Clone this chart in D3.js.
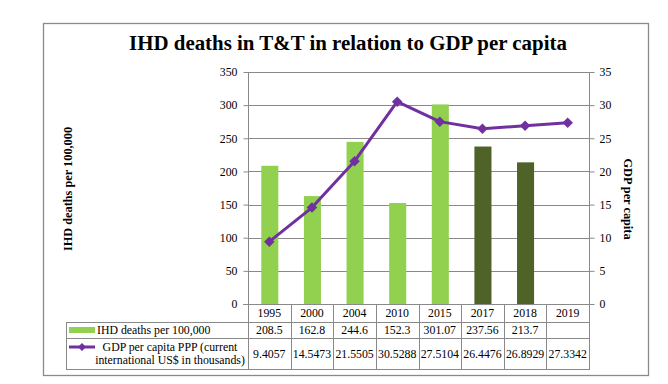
<!DOCTYPE html>
<html>
<head>
<meta charset="utf-8">
<script src="https://cdn.jsdelivr.net/npm/d3@7"></script>
<style>
  body { margin: 0; background: white; }
  svg text { font-family: "Liberation Serif", "Times New Roman", serif; fill: #000; }
</style>
</head>
<body>
<svg class="main" width="668" height="384"></svg>
<script>
const years = ['1995', '2000', '2004', '2010', '2015', '2017', '2018', '2019'];
const deaths = [208.5, 162.8, 244.6, 152.3, 301.07, 237.56, 213.7, null];
const deathLabels = ['208.5', '162.8', '244.6', '152.3', '301.07', '237.56', '213.7', ''];
const gdp = [9.4057, 14.5473, 21.5505, 30.5288, 27.5104, 26.4476, 26.8929, 27.3342];
const gdpLabels = ['9.4057', '14.5473', '21.5505', '30.5288', '27.5104', '26.4476', '26.8929', '27.3342'];
const leftTicks = [0, 50, 100, 150, 200, 250, 300, 350];
const rightTicks = [0, 5, 10, 15, 20, 25, 30, 35];

const colors = {
    light: '#92D050',
    dark: '#4F6228',
    line: '#7030A0',
    grid: '#898989',
    frame: '#8a8a8a'
};

const svg = d3.select('svg.main'),
    fontSize = 11.8,
    plot = { left: 248, right: 589, top: 72, bottom: 304 },
    table = { left: 66, row1: 322, row2: 338, bottom: 369 };

const x = d3.scaleBand().domain(years).range([plot.left, plot.right]).padding(0);
const yL = d3.scaleLinear().domain([0, 350]).range([plot.bottom, plot.top]);
const yR = d3.scaleLinear().domain([0, 35]).range([plot.bottom, plot.top]);
const barW = x.bandwidth() * 0.4;

// outer frame
svg.append('rect')
    .attr('x', 43.5).attr('y', 23.5)
    .attr('width', 605).attr('height', 352)
    .attr('fill', 'white')
    .attr('stroke', colors.frame)
    .attr('stroke-width', 1.3);

svg.append('text')
    .text('IHD deaths in T&T in relation to GDP per capita')
    .attr('x', 348).attr('y', 50)
    .attr('text-anchor', 'middle')
    .attr('font-weight', 'bold')
    .attr('font-size', 20.9);

// gridlines
svg.append('g').selectAll('line')
    .data(leftTicks.filter(d => d > 0))
    .enter().append('line')
    .attr('x1', plot.left).attr('x2', plot.right)
    .attr('y1', d => Math.round(yL(d)) + 0.5).attr('y2', d => Math.round(yL(d)) + 0.5)
    .attr('stroke', colors.grid).attr('stroke-width', 1);

// bars
svg.append('g').selectAll('rect')
    .data(years.map((y, i) => ({ year: y, v: deaths[i], i })).filter(d => d.v != null))
    .enter().append('rect')
    .attr('x', d => x(d.year) + (x.bandwidth() - barW) / 2 + 0.5)
    .attr('y', d => yL(d.v))
    .attr('width', barW)
    .attr('height', d => yL(0) - yL(d.v))
    .attr('fill', d => d.i >= 5 ? colors.dark : colors.light);

// axes
const axisL = svg.append('g')
    .attr('transform', `translate(${plot.left + 0.5},0)`)
    .call(d3.axisLeft(yL).tickValues(leftTicks).tickSize(5).tickPadding(6).tickFormat(d3.format('d')));
const axisR = svg.append('g')
    .attr('transform', `translate(${plot.right + 0.5},0)`)
    .call(d3.axisRight(yR).tickValues(rightTicks).tickSize(5).tickPadding(5).tickFormat(d3.format('d')));

[axisL, axisR].forEach(a => {
    a.select('.domain').attr('stroke', colors.grid).attr('d', `M0,${plot.top}V${plot.bottom}`);
    a.selectAll('.tick line').attr('stroke', colors.grid);
    a.selectAll('.tick text')
        .style('font-family', '"Liberation Serif", serif')
        .attr('font-size', fontSize)
        .attr('fill', '#000');
});

// zero line with ticks on both sides
svg.append('line')
    .attr('x1', plot.left - 5).attr('x2', plot.right + 5)
    .attr('y1', plot.bottom + 0.5).attr('y2', plot.bottom + 0.5)
    .attr('stroke', colors.grid);

// axis titles
svg.append('text')
    .text('IHD deaths per 100,000')
    .attr('transform', `translate(72,189) rotate(-90)`)
    .attr('text-anchor', 'middle')
    .attr('font-weight', 'bold')
    .attr('font-size', 12.3);

svg.append('text')
    .text('GDP per capita')
    .attr('transform', `translate(624,199) rotate(90)`)
    .attr('text-anchor', 'middle')
    .attr('font-weight', 'bold')
    .attr('font-size', 12.3);

// line series
const line = d3.line()
    .x((d, i) => x(years[i]) + x.bandwidth() / 2)
    .y(d => yR(d));

svg.append('path')
    .datum(gdp)
    .attr('d', line)
    .attr('fill', 'none')
    .attr('stroke', colors.line)
    .attr('stroke-width', 3)
    .attr('stroke-linejoin', 'round');

const diamond = d3.symbol().type(d3.symbolDiamond2).size(70);

svg.append('g').selectAll('path')
    .data(gdp)
    .enter().append('path')
    .attr('d', diamond)
    .attr('transform', (d, i) => `translate(${x(years[i]) + x.bandwidth() / 2},${yR(d)})`)
    .attr('fill', colors.line);

// data table
const tbl = svg.append('g').attr('stroke', colors.grid).attr('stroke-width', 1);
const hLine = (x1, x2, y) => tbl.append('line')
    .attr('x1', x1).attr('x2', x2).attr('y1', y + 0.5).attr('y2', y + 0.5);
const vLine = (xx, y1, y2) => tbl.append('line')
    .attr('x1', xx + 0.5).attr('x2', xx + 0.5).attr('y1', y1).attr('y2', y2);

hLine(table.left, plot.right, table.row1);
hLine(table.left, plot.right, table.row2);
hLine(table.left, plot.right, table.bottom);
vLine(table.left, table.row1, table.bottom + 1);
years.forEach(y => vLine(Math.round(x(y)), plot.bottom, table.bottom + 1));
vLine(plot.right, plot.bottom, table.bottom + 1);

const cells = svg.append('g').attr('font-size', fontSize).attr('text-anchor', 'middle');
years.forEach((y, i) => {
    const cx = x(y) + x.bandwidth() / 2;
    cells.append('text').text(y).attr('x', cx).attr('y', 317);
    cells.append('text').text(deathLabels[i]).attr('x', cx).attr('y', 334);
    cells.append('text').text(gdpLabels[i]).attr('x', cx).attr('y', 357.5);
});

// legend keys in table
svg.append('rect')
    .attr('x', 69).attr('y', 327)
    .attr('width', 26).attr('height', 6)
    .attr('fill', colors.light);
svg.append('text')
    .text('IHD deaths per 100,000')
    .attr('x', 97).attr('y', 334)
    .attr('font-size', fontSize);

svg.append('line')
    .attr('x1', 69).attr('x2', 95)
    .attr('y1', 347).attr('y2', 347)
    .attr('stroke', colors.line).attr('stroke-width', 3);
svg.append('path')
    .attr('d', d3.symbol().type(d3.symbolDiamond2).size(40))
    .attr('transform', 'translate(82,347)')
    .attr('fill', colors.line);
svg.append('text')
    .text('GDP per capita PPP (current')
    .attr('x', 170).attr('y', 351)
    .attr('text-anchor', 'middle')
    .attr('font-size', fontSize);
svg.append('text')
    .text('international US$ in thousands)')
    .attr('x', 170).attr('y', 364)
    .attr('text-anchor', 'middle')
    .attr('font-size', fontSize);
</script>
</body>
</html>
